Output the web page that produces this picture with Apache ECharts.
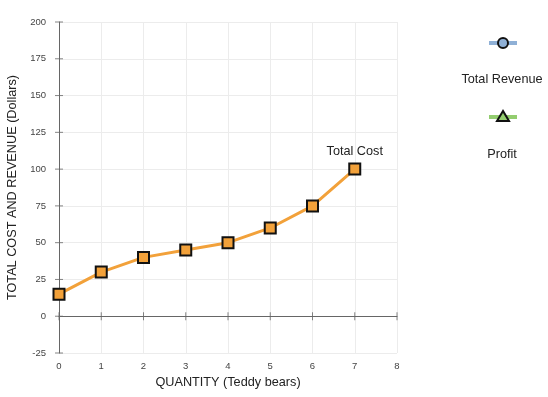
<!DOCTYPE html>
<html>
<head>
<meta charset="utf-8">
<script src="https://cdn.jsdelivr.net/npm/echarts@6/dist/echarts.min.js"></script>
<style>html,body{margin:0;padding:0;background:#fff}#c{width:548px;height:397px}</style>
</head>
<body>
<div id="c"></div>
<script>
var quantities = [0, 1, 2, 3, 4, 5, 6, 7];
var totalCost = [15, 30, 40, 45, 50, 60, 75, 100];
var totalRevenue = [];
var profit = [];
var seriesNames = ['Total Cost', 'Total Revenue', 'Profit'];
var xTicks = [0, 1, 2, 3, 4, 5, 6, 7, 8];
var yTicks = [-25, 0, 25, 50, 75, 100, 125, 150, 175, 200];

var chart = echarts.init(document.getElementById('c'));
var font = 'Liberation Sans, Arial, sans-serif';
var nameSize = 12.7;
var costData = quantities.map(function (q, i) { return [q, totalCost[i]]; });
costData[costData.length - 1] = {
  value: costData[costData.length - 1],
  label: { show: true, formatter: seriesNames[0], position: 'top', distance: 5, color: '#222', fontSize: nameSize, fontFamily: font }
};

var option = {
  animation: false,
  grid: { left: 59, top: 22, right: 151, bottom: 44, containLabel: false, outerBoundsMode: 'none' },
  xAxis: [
    {
      type: 'value', min: xTicks[0], max: xTicks[xTicks.length - 1], interval: 1, position: 'bottom',
      axisLine: { show: false, onZero: false }, axisTick: { show: false },
      axisLabel: { color: '#444', fontSize: 9.5, fontFamily: font, margin: 8 },
      splitLine: { show: true, lineStyle: { color: '#ececec' } },
      name: 'QUANTITY (Teddy bears)', nameLocation: 'middle', nameGap: 23,
      nameTextStyle: { color: '#222', fontSize: nameSize, fontFamily: font }
    },
    {
      type: 'value', min: xTicks[0], max: xTicks[xTicks.length - 1], interval: 1,
      axisLine: { show: true, onZero: true, lineStyle: { color: '#666' } },
      axisTick: { show: false },
      axisLabel: { show: false }, splitLine: { show: false }
    }
  ],
  yAxis: {
    type: 'value', min: yTicks[0], max: yTicks[yTicks.length - 1], interval: 25,
    axisLine: { show: true, onZero: false, lineStyle: { color: '#666' } },
    axisTick: { show: false },
    axisLabel: { color: '#444', fontSize: 9.5, fontFamily: font, margin: 13 },
    splitLine: { show: true, lineStyle: { color: '#ececec' } },
    name: 'TOTAL COST AND REVENUE (Dollars)', nameLocation: 'middle', nameGap: 40,
    nameTextStyle: { color: '#222', fontSize: nameSize, fontFamily: font }
  },
  series: [
    {
      name: 'xticks', type: 'scatter', xAxisIndex: 1, silent: true,
      data: xTicks.map(function (x) { return [x, 0]; }),
      symbol: 'rect', symbolSize: [1, 8], itemStyle: { color: '#666' }, z: 1
    },
    {
      name: 'yticks', type: 'scatter', silent: true,
      data: yTicks.map(function (y) { return [xTicks[0], y]; }),
      symbol: 'rect', symbolSize: [8, 1], itemStyle: { color: '#666' }, z: 1
    },
    {
      name: seriesNames[0], type: 'line', data: costData,
      lineStyle: { color: '#f2a13a', width: 3 },
      itemStyle: { color: '#f2a13a', borderColor: '#111', borderWidth: 2 },
      symbol: 'rect', symbolSize: 11, z: 5
    },
    { name: seriesNames[1], type: 'line', data: totalRevenue },
    { name: seriesNames[2], type: 'line', data: profit }
  ],
  graphic: [
    { type: 'line', shape: { x1: 489, y1: 43, x2: 517, y2: 43 }, style: { stroke: '#8fb0d6', lineWidth: 4 } },
    { type: 'circle', shape: { cx: 503, cy: 43, r: 5 }, style: { fill: '#8fb0d6', stroke: '#111', lineWidth: 2 } },
    { type: 'text', x: 502, y: 79, style: { text: seriesNames[1], fill: '#222', fontSize: nameSize, fontFamily: font, textAlign: 'center', textVerticalAlign: 'middle' } },
    { type: 'line', shape: { x1: 489, y1: 117, x2: 517, y2: 117 }, style: { stroke: '#93cd6f', lineWidth: 4 } },
    { type: 'polygon', shape: { points: [[503, 111], [497, 121], [509, 121]] }, style: { fill: '#93cd6f', stroke: '#111', lineWidth: 2 } },
    { type: 'text', x: 502, y: 154, style: { text: seriesNames[2], fill: '#222', fontSize: nameSize, fontFamily: font, textAlign: 'center', textVerticalAlign: 'middle' } }
  ]
};
chart.setOption(option);
</script>
</body>
</html>
